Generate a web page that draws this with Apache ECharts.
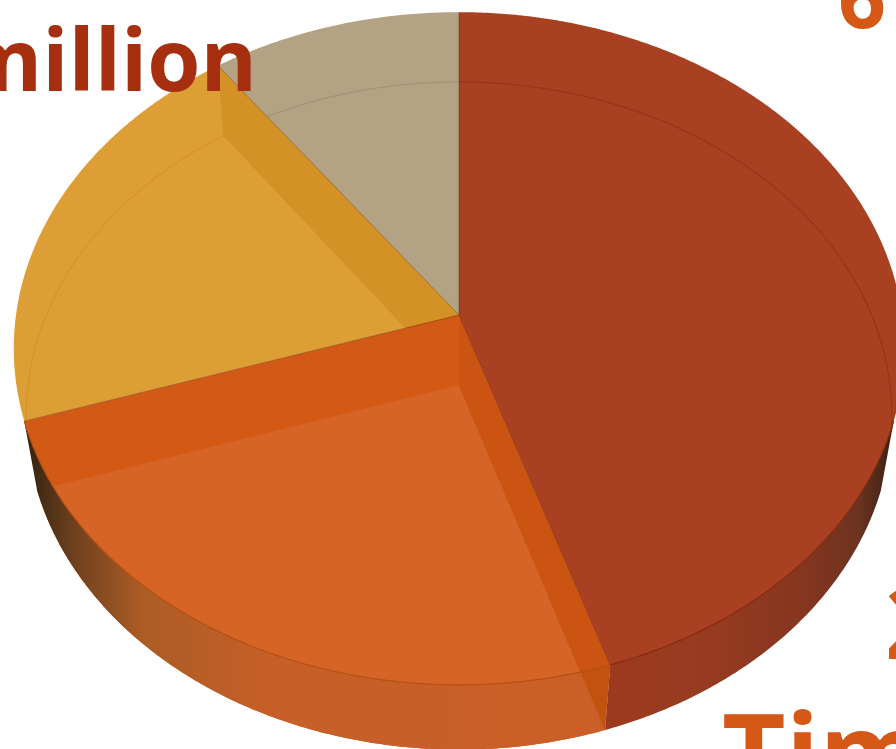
<!DOCTYPE html>
<html>
<head>
<meta charset="utf-8">
<style>html,body{margin:0;padding:0;background:#fff}#chart{width:896px;height:749px}</style>
<script src="https://cdn.jsdelivr.net/npm/echarts@6/dist/echarts.min.js"></script>
</head>
<body>
<div id="chart"></div>
<script>
// Shares of the pie, clockwise from twelve o'clock
const categories = ['Red', 'Orange', 'Yellow', 'Tan'];
const shares = [45, 25, 20, 10];

const topColors = ['#a94021', '#d25a14', '#de9e36', '#b4a285'];
const backRimColors = ['#973519', null, '#d69428', '#a39276'];
const floorOrange = '#d56426';
const sideWallYellow = '#d49226';
const wallUpper = '#cc5412';
const wallLower = '#c2530f';

const redLabel = 'million';
const orangeDigitTop = '6';
const orangeDigitRight = '2';
const orangeWord = 'Time';

// Perspective projection of the two faces of the disc
const topFace = { cx: 459, cy: 315, a: 443, b: 333, k: 0.0996 };
const floorFace = { cx: 459, cy: 385, a: 431, b: 331, k: 0.0922 };
const FRONT_FROM = 108, FRONT_TO = 252;

function rim(face, deg) {
  const r = deg * Math.PI / 180, w = 1 + face.k * Math.cos(r);
  return [face.cx + face.a * Math.sin(r) / w, face.cy - face.b * Math.cos(r) / w];
}
function arc(face, from, to) {
  const n = Math.max(2, Math.ceil(Math.abs(to - from) * 2)), pts = [];
  for (let i = 0; i <= n; i++) pts.push(rim(face, from + (to - from) * i / n));
  return pts;
}
function sector(face, from, to) {
  return [[face.cx, face.cy]].concat(arc(face, from, to));
}
function poly(points, fill, z2) {
  return { type: 'polygon', z2, shape: { points }, style: { fill }, silent: true };
}
function line(points, stroke, z2, width) {
  return { type: 'polyline', z2, shape: { points }, silent: true,
    style: { fill: null, stroke, lineWidth: width || 1.2 } };
}
// Angle on the top rim where the floor's radius at `deg` passes under it
function rimCrossing(deg) {
  const o = [floorFace.cx, floorFace.cy], e = rim(floorFace, deg);
  const side = d => {
    const p = rim(topFace, d);
    return (e[0] - o[0]) * (p[1] - o[1]) - (e[1] - o[1]) * (p[0] - o[0]);
  };
  let lo = deg, hi = deg + 30;
  const s = side(lo);
  for (let i = 0; i < 30; i++) {
    const m = (lo + hi) / 2;
    if (side(m) * s > 0) lo = m; else hi = m;
  }
  return lo;
}
function wallGradient(stops, x0, x1) {
  return new echarts.graphic.LinearGradient(x0, 0, x1, 0, stops, true);
}
const redWall = wallGradient([
  { offset: 0, color: '#9c3a1f' }, { offset: 0.35, color: '#973b20' },
  { offset: 0.68, color: '#86361f' }, { offset: 0.88, color: '#6c3320' }, { offset: 1, color: '#3a2114' }
], 605, 893);
const orangeWall = wallGradient([
  { offset: 0, color: '#33220f' }, { offset: 0.08, color: '#6b3f1e' }, { offset: 0.2, color: '#ab5c25' },
  { offset: 0.42, color: '#c65f28' }, { offset: 1, color: '#cc5f28' }
], 25, 605);

const total = shares.reduce((s, v) => s + v, 0);

function renderSlice(params, api) {
  const i = params.dataIndex;
  const start = shares.slice(0, i).reduce((s, v) => s + v, 0) * 360 / total;
  const end = start + api.value(0) * 360 / total;
  const kids = [];
  const tc = [topFace.cx, topFace.cy], fc = [floorFace.cx, floorFace.cy];

  kids.push(poly(sector(topFace, start, end), topColors[i], i === 1 ? 13 : 10));
  kids.push(line([tc, rim(topFace, start)], 'rgba(60,25,5,0.35)', 18, 1));

  if (i === 0) {
    kids.push(line(arc(floorFace, start, Math.min(end, 98)), backRimColors[i], 11));
    kids.push(poly(arc(topFace, FRONT_FROM, end).concat(arc(floorFace, end, FRONT_FROM)), redWall, 15));
    kids.push(line(arc(topFace, FRONT_FROM, end), '#85290f', 18));
  }
  if (i === 1) {
    kids.push(poly(sector(floorFace, start, end), floorOrange, 14));
    kids.push(poly(arc(topFace, start, end).concat(arc(floorFace, end, start)), orangeWall, 15));
    // Radial wall between the red and orange slices
    kids.push(poly([tc, fc, rim(floorFace, start), rim(topFace, start)], wallLower, 16));
    const cross = rimCrossing(start);
    kids.push(poly([tc, fc].concat(arc(topFace, cross, start)), wallUpper, 17));
    kids.push(line(arc(topFace, start, end), '#b5510f', 18));
  }
  if (i === 2) {
    kids.push(line(arc(floorFace, Math.max(start, 262), end), backRimColors[i], 11));
    // Radial wall between the yellow and tan slices
    kids.push(poly([tc, fc, rim(floorFace, end), rim(topFace, end)], sideWallYellow, 12));
  }
  if (i === 3) {
    kids.push(line(arc(floorFace, start, end), backRimColors[i], 11));
  }
  return { type: 'group', children: kids };
}

function word(text, x, baseline, fill, size, align) {
  return { type: 'text', z: 100, silent: true, style: {
    text, x, y: baseline - 0.81 * size, fill, textAlign: align, textVerticalAlign: 'top',
    font: '700 ' + size + 'px "Open Sans"' } };
}

const chart = echarts.init(document.getElementById('chart'), null, { renderer: 'canvas' });
chart.setOption({
  animation: false,
  backgroundColor: '#ffffff',
  series: [{
    type: 'custom',
    name: 'Shares',
    coordinateSystem: 'none',
    renderItem: renderSlice,
    data: shares.map((v, i) => ({ name: categories[i], value: [v] }))
  }],
  graphic: [
    word(redLabel, 257, 93, '#a52f0e', 86, 'right'),
    word(orangeDigitTop, 838, 30, '#d55816', 84, 'left'),
    word(orangeDigitRight, 885, 662, '#d55816', 100, 'left'),
    word(orangeWord, 722, 795, '#d55816', 110, 'left')
  ]
});
</script>
</body>
</html>
